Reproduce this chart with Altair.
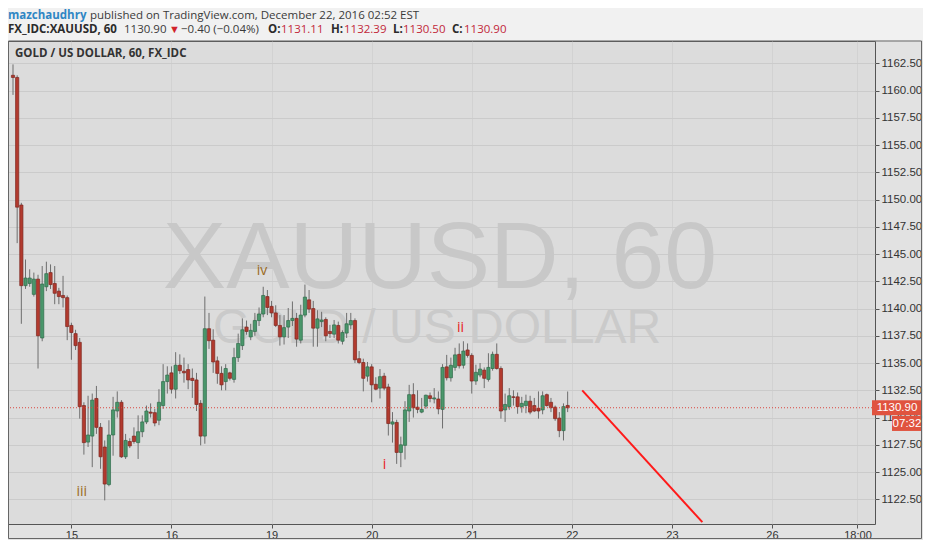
import altair as alt
import pandas as pd

# ---------------- data ----------------
bar_index = list(range(134))
opens = [1161.4, 1161.2, 1149.5, 1142.1, 1142.3, 1141.3, 1142.7, 1137.3, 1142.0, 1143.3,
         1142.3, 1141.6, 1141.2, 1141.0, 1138.45, 1137.7, 1136.9, 1131.1, 1127.75, 1128.3,
         1131.75, 1129.1, 1127.3, 1123.85, 1128.4, 1130.6, 1131.4, 1126.4, 1127.8, 1128.3,
         1127.7, 1128.7, 1129.6, 1130.5, 1130.45, 1129.75, 1131.1, 1133.3, 1134.1, 1132.6,
         1134.8, 1134.25, 1134.4, 1133.6, 1133.45, 1131.3, 1128.3, 1138.15, 1137.1, 1135.2,
         1134.05, 1133.3, 1134.1, 1133.5, 1135.5, 1136.6, 1138.3, 1137.4, 1137.9, 1138.9,
         1139.5, 1141.1, 1140.2, 1139.6, 1138.45, 1137.4, 1138.3, 1138.9, 1139.1, 1137.1,
         1139.4, 1140.8, 1140.0, 1138.2, 1138.8, 1139.0, 1137.9, 1137.65, 1138.45, 1137.0,
         1137.75, 1138.5, 1138.9, 1135.4, 1135.05, 1133.8, 1134.65, 1133.05, 1132.7, 1133.8,
         1132.8, 1129.4, 1129.55, 1126.8, 1127.45, 1130.6, 1132.1, 1130.95, 1130.5, 1131.05,
         1132.0, 1131.7, 1131.7, 1130.75, 1134.65, 1133.65, 1134.6, 1135.8, 1134.8, 1136.2,
         1135.7, 1133.35, 1133.9, 1134.35, 1133.5, 1134.5, 1135.8, 1134.5, 1130.7, 1131.0,
         1131.9, 1131.9, 1131.0, 1131.1, 1131.5, 1131.1, 1130.85, 1130.7, 1132.1, 1131.4,
         1130.95, 1129.95, 1128.8, 1131.11]
highs = [1162.4, 1161.4, 1149.7, 1144.5, 1143.6, 1143.3, 1143.1, 1143.9, 1144.3, 1144.05,
         1143.9, 1141.9, 1143.0, 1141.2, 1138.7, 1138.05, 1137.3, 1131.4, 1132.0, 1132.2,
         1132.9, 1129.5, 1127.9, 1129.75, 1131.9, 1132.4, 1131.6, 1128.5, 1128.1, 1129.1,
         1130.2, 1130.2, 1131.1, 1131.3, 1130.8, 1132.6, 1134.9, 1134.7, 1134.7, 1136.0,
         1135.8, 1135.5, 1134.9, 1134.5, 1134.1, 1131.6, 1141.1, 1139.6, 1138.1, 1135.6,
         1134.7, 1134.9, 1134.2, 1136.4, 1137.7, 1139.1, 1138.9, 1138.6, 1139.6, 1140.1,
         1142.0, 1141.7, 1140.7, 1140.3, 1139.4, 1139.4, 1140.05, 1140.65, 1139.6, 1140.35,
         1142.2, 1141.7, 1140.7, 1139.85, 1139.7, 1139.2, 1138.5, 1138.95, 1138.8, 1138.0,
         1139.6, 1139.6, 1139.1, 1136.1, 1135.4, 1135.1, 1134.9, 1133.7, 1134.45, 1134.1,
         1133.1, 1130.5, 1129.8, 1128.25, 1131.5, 1133.0, 1133.15, 1132.5, 1131.8, 1132.1,
         1132.3, 1132.7, 1132.4, 1134.9, 1135.75, 1135.5, 1136.4, 1136.8, 1137.0, 1136.8,
         1135.9, 1134.85, 1135.0, 1134.6, 1135.9, 1136.05, 1136.8, 1134.7, 1132.2, 1132.7,
         1132.5, 1132.3, 1131.9, 1132.1, 1132.0, 1131.8, 1132.4, 1132.4, 1132.2, 1131.8,
         1131.1, 1130.5, 1131.3, 1132.39]
lows = [1159.6, 1146.0, 1138.6, 1141.8, 1142.0, 1141.1, 1134.5, 1137.0, 1141.6, 1141.8,
        1140.4, 1140.4, 1140.1, 1137.1, 1135.3, 1136.2, 1129.9, 1126.6, 1127.3, 1125.45,
        1128.5, 1125.3, 1122.4, 1123.7, 1126.5, 1130.0, 1126.3, 1126.2, 1127.2, 1127.6,
        1126.2, 1128.2, 1129.4, 1130.0, 1129.2, 1129.3, 1130.8, 1132.2, 1132.2, 1131.75,
        1134.0, 1133.2, 1132.6, 1131.8, 1130.6, 1127.45, 1127.6, 1136.3, 1134.1, 1133.1,
        1132.5, 1132.5, 1133.4, 1133.2, 1135.1, 1136.2, 1137.6, 1137.1, 1137.5, 1138.4,
        1139.2, 1139.4, 1139.2, 1138.3, 1136.6, 1136.7, 1137.3, 1138.4, 1136.5, 1136.8,
        1139.2, 1139.6, 1136.5, 1136.5, 1138.3, 1137.0, 1137.3, 1137.3, 1136.8, 1136.7,
        1137.3, 1138.1, 1135.0, 1134.9, 1132.4, 1133.3, 1131.4, 1132.5, 1131.75, 1132.5,
        1128.35, 1127.7, 1125.75, 1125.45, 1126.15, 1129.6, 1130.0, 1130.4, 1130.4, 1130.8,
        1131.4, 1131.3, 1130.3, 1129.0, 1133.4, 1133.3, 1134.3, 1134.5, 1134.5, 1135.5,
        1132.2, 1133.0, 1133.7, 1132.7, 1133.3, 1134.3, 1134.4, 1129.9, 1129.6, 1130.7,
        1131.1, 1130.35, 1130.45, 1130.4, 1130.3, 1130.5, 1129.9, 1130.3, 1131.0, 1130.5,
        1129.7, 1128.2, 1127.9, 1130.50]
closes = [1161.2, 1149.3, 1142.1, 1142.8, 1142.8, 1142.7, 1137.5, 1142.25, 1143.2, 1142.2,
          1141.4, 1141.1, 1141.0, 1138.35, 1137.8, 1136.6, 1131.0, 1127.7, 1128.4, 1131.6,
          1129.1, 1126.4, 1123.9, 1128.4, 1130.7, 1131.4, 1126.4, 1127.9, 1127.4, 1127.8,
          1128.7, 1129.6, 1130.6, 1130.4, 1129.5, 1131.4, 1133.3, 1133.9, 1132.6, 1134.8,
          1134.3, 1134.1, 1133.45, 1133.4, 1131.2, 1128.3, 1138.15, 1137.05, 1135.1, 1134.05,
          1133.0, 1134.5, 1133.6, 1135.5, 1136.8, 1138.05, 1137.9, 1138.0, 1138.9, 1139.5,
          1141.2, 1140.1, 1139.6, 1138.45, 1137.4, 1138.25, 1138.9, 1139.1, 1137.2, 1139.4,
          1141.05, 1139.95, 1138.2, 1139.05, 1138.95, 1137.5, 1137.7, 1138.5, 1137.1, 1137.8,
          1138.6, 1138.9, 1135.3, 1135.05, 1133.6, 1134.65, 1133.0, 1132.6, 1133.75, 1132.7,
          1129.45, 1129.6, 1126.8, 1127.5, 1130.7, 1132.1, 1130.9, 1130.75, 1130.75, 1132.05,
          1131.75, 1131.8, 1130.8, 1134.6, 1133.65, 1134.8, 1135.75, 1134.75, 1136.1, 1135.7,
          1133.35, 1134.15, 1134.45, 1133.6, 1134.6, 1135.8, 1134.5, 1130.6, 1131.2, 1132.0,
          1131.85, 1131.0, 1131.3, 1131.5, 1130.5, 1130.6, 1130.6, 1132.0, 1131.1, 1130.9,
          1129.9, 1128.8, 1131.0, 1130.90]

# time axis labels (bar index where each label sits)
time_tick_pos = [14, 38, 62, 86, 110, 134, 158, 182, 202.5]
time_tick_labels = ["15", "16", "19", "20", "21", "22", "23", "26", "18:00"]
price_ticks = [1122.5 + 2.5 * k for k in range(17)]

# wave labels
wave_x = [16.5, 89.1, 107.3, 59.7]
wave_y = [1123.2, 1125.65, 1138.2, 1143.4]
wave_text = ["iii", "i", "ii", "iv"]
wave_color = ["#9a6a1c", "#e8201c", "#e8201c", "#9a6a1c"]

# projected red line
proj_x = [136.5, 165.3]
proj_y = [1132.5, 1120.4]

last_price = 1130.90
countdown = "07:32"

# ---------------- layout ----------------
W, H = 867, 483
PAD_T, PAD_R, PAD_B = 33, 48, 16
FONT_UI = "Open Sans"
FONT_AX = "Liberation Sans"

RED, RED_S = "#b23a2e", "#7c271f"
GRN, GRN_S = "#4a976b", "#2f6b4a"

df = pd.DataFrame({"i": bar_index, "open": opens, "high": highs, "low": lows, "close": closes})
df["dir"] = ["up" if c >= o else "down" for o, c in zip(opens, closes)]

xs = alt.Scale(domain=[0.0, 205.5], nice=False, zero=False)
ys = alt.Scale(domain=[1120.234, 1164.546], nice=False, zero=False)

label_expr = " : ".join(f"datum.value == {v} ? '{l}'" for v, l in zip(time_tick_pos, time_tick_labels)) + " : ''"

x_axis = alt.Axis(values=time_tick_pos, labelExpr=label_expr, title=None, domain=False,
                  tickSize=4, tickColor="#555555", labelPadding=1, labelFont=FONT_AX,
                  labelFontSize=11, labelColor="#333333", grid=True, gridColor="#d2d2d2",
                  labelFlush=False, labelOverlap=False, tickCount=60)
y_axis = alt.Axis(values=price_ticks, format=".2f", orient="right", title=None, domain=False,
                  tickSize=4, tickColor="#555555", labelPadding=2, labelFont=FONT_AX,
                  labelFontSize=11.5, labelColor="#333333", grid=True, gridColor="#cbcbcb",
                  labelFlush=False, labelOverlap=False, tickCount=60)

one = pd.DataFrame({"k": [0]})

def txt(text, x, y, size=11.5, color="#333333", weight="normal", font=FONT_UI, align="left",
        baseline="top", opacity=1.0):
    return alt.Chart(one).mark_text(text=text, x=x, y=y, fontSize=size, color=color,
                                    fontWeight=weight, font=font, align=align,
                                    baseline=baseline, opacity=opacity)

# backgrounds / frames
header_bg = alt.Chart(one).mark_rect(x=0, x2=W + PAD_R, y=-PAD_T, y2=-0.5, fill="#f1f1f1")
frame = alt.Chart(one).mark_rect(x=0.5, x2=W + PAD_R - 1.5, y=0, y2=H + PAD_B - 1.5,
                                 fill="transparent", stroke="#666666", strokeWidth=1)

# watermark
wm1 = txt("XAUUSD, 60", 432, 218, size=95, color="#c8c8c8", font=FONT_AX, align="center", baseline="middle")
wm2 = txt("GOLD / US DOLLAR", 429, 288, size=48, color="#cacaca", font=FONT_AX, align="center", baseline="middle")

# candles (the axes are defined once, on the wick layer)
base = alt.Chart(df).encode(x=alt.X("i:Q", scale=xs, axis=x_axis))
wicks = base.mark_rule(color="#6e6e6e", strokeWidth=1, clip=True).encode(
    y=alt.Y("low:Q", scale=ys, axis=y_axis), y2="high:Q")
bodies = base.mark_bar(size=3.2, strokeWidth=0.7, clip=True).encode(
    y=alt.Y("open:Q", scale=ys), y2="close:Q",
    color=alt.Color("dir:N", scale=alt.Scale(domain=["up", "down"], range=[GRN, RED]), legend=None),
    stroke=alt.Stroke("dir:N", scale=alt.Scale(domain=["up", "down"], range=[GRN_S, RED_S]), legend=None))

# last price dotted line
price_line = alt.Chart(pd.DataFrame({"p": [last_price]})).mark_rule(
    color="#d9473f", strokeWidth=1, strokeDash=[1, 2]).encode(y=alt.Y("p:Q", scale=ys))

# projection line
proj = alt.Chart(pd.DataFrame({"i": proj_x, "p": proj_y})).mark_line(
    color="#ff1a1a", strokeWidth=2, clip=True).encode(
    x=alt.X("i:Q", scale=xs), y=alt.Y("p:Q", scale=ys))

# wave labels
waves = alt.Chart(pd.DataFrame({"i": wave_x, "p": wave_y, "t": wave_text, "c": wave_color})).mark_text(
    fontSize=14, font=FONT_UI, baseline="middle", align="center").encode(
    x=alt.X("i:Q", scale=xs), y=alt.Y("p:Q", scale=ys), text="t:N",
    color=alt.Color("c:N", scale=None))

# price label boxes on the axis
lp_box = alt.Chart(pd.DataFrame({"a": [last_price + 0.69], "b": [last_price - 0.69]})).mark_rect(
    x=W - 3, x2=W + PAD_R - 1, fill="#e0533f").encode(y=alt.Y("a:Q", scale=ys), y2="b:Q")
lp_txt = alt.Chart(pd.DataFrame({"p": [last_price], "t": [f"{last_price:.2f}"]})).mark_text(
    x=W + 22, color="white", fontSize=11.5, font=FONT_AX, align="center", baseline="middle").encode(
    y=alt.Y("p:Q", scale=ys), text="t:N")
cd_box = alt.Chart(pd.DataFrame({"a": [last_price - 0.76], "b": [last_price - 2.13]})).mark_rect(
    x=W + 17, x2=W + PAD_R - 1, fill="#e0533f").encode(y=alt.Y("a:Q", scale=ys), y2="b:Q")
cd_txt = alt.Chart(pd.DataFrame({"p": [last_price - 1.45], "t": [countdown]})).mark_text(
    x=W + 32, color="white", fontSize=11.5, font=FONT_AX, align="center", baseline="middle").encode(
    y=alt.Y("p:Q", scale=ys), text="t:N")

# header texts
R1, R2 = -31, -17
hdr = [
    txt("mazchaudhry", 0, R1, color="#2f86c4", weight="bold"),
    txt("published on TradingView.com, December 22, 2016 02:52 EST", 82, R1, color="#3a3a3a"),
    txt("FX_IDC:XAUUSD, 60", 0, R2, color="#2b2b2b", weight="bold"),
    txt("1130.90", 116, R2, color="#3a3a3a"),
    txt("▼", 161, R2, color="#d1232a", size=11),
    txt("−0.40 (−0.04%)", 173, R2, color="#3a3a3a"),
    txt("O:", 260, R2, color="#2b2b2b", weight="bold"),
    txt("1131.11", 273, R2, color="#c2283a"),
    txt("H:", 323, R2, color="#2b2b2b", weight="bold"),
    txt("1132.39", 336, R2, color="#c2283a"),
    txt("L:", 385, R2, color="#2b2b2b", weight="bold"),
    txt("1130.50", 395, R2, color="#c2283a"),
    txt("C:", 444, R2, color="#2b2b2b", weight="bold"),
    txt("1130.90", 456, R2, color="#c2283a"),
    txt("GOLD / US DOLLAR, 60, FX_IDC", 7, 13, size=11.5, color="#333333", weight="bold", baseline="middle"),
]

chart = alt.layer(
    header_bg, wm1, wm2, wicks, bodies, price_line, proj, waves,
    lp_box, lp_txt, cd_box, cd_txt, frame, *hdr
).properties(
    width=W, height=H,
    autosize=alt.AutoSizeParams(type="none"),
    padding={"left": 0, "top": PAD_T, "right": PAD_R, "bottom": PAD_B},
    background="#e2e2e2",
).configure_view(fill="#dcdcdc", stroke="#555555", strokeWidth=1)

chart.save("out.html", embed_options={"renderer": "svg", "actions": False})
